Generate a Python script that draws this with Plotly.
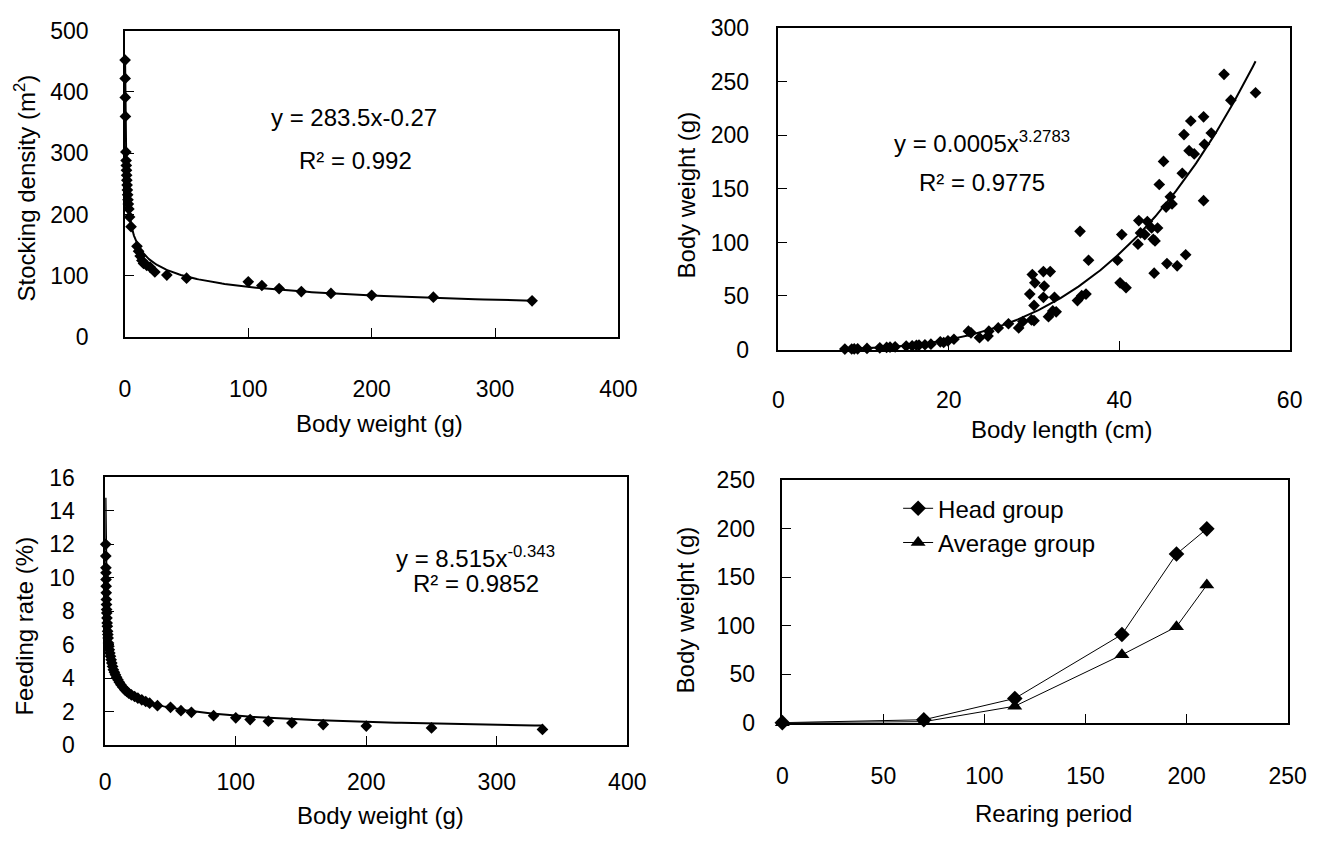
import numpy as np
import plotly.graph_objects as go

W, H = 1334, 843
PAGE_OFFSET = 8  # the page body margin shifts the figure by this many pixels

# ---------------- Panel A: stocking density vs body weight ----------------
sd_weight = [0.18, 0.23, 0.3, 0.41, 0.8, 1.0, 1.15, 1.3, 1.45, 1.6, 1.8, 2.0, 2.25, 2.5,
             2.8, 3.2, 3.8, 5.0, 9.8, 11.1, 12.4, 13.8, 15.1, 17.7, 20.4, 24.3, 34, 50,
             100, 111, 125, 143, 167, 200, 250, 330]
sd_density = [452, 422, 391, 360, 302, 288, 280, 272, 264, 256, 248, 240, 232, 224,
              217, 209, 196, 180, 148, 140, 132, 125, 120, 117, 114, 106, 101, 96,
              90, 84, 79, 74, 71, 68, 65, 59]
sd_coef, sd_exp = 283.5, -0.27

# ---------------- Panel B: body weight vs body length ----------------
bl_length = [7.8, 8.6, 8.9, 9.3, 10.4, 11.9, 12.7, 13.1, 13.7, 15.0, 15.7, 16.2, 16.5, 17.2,
             17.9, 19.0, 19.4, 19.9, 20.6, 22.3, 22.6, 23.6, 24.6, 24.7, 25.8, 27.0, 28.2,
             28.7, 29.5, 29.7, 30.0, 30.0, 30.1, 29.8, 31.1, 31.2, 31.1, 31.7, 31.9, 32.2,
             32.4, 32.6, 35.1, 35.4, 35.6, 36.1, 36.4, 39.8, 40.1, 40.3, 40.8, 42.2, 42.3,
             42.5, 43.0, 43.3, 43.8, 44.0, 44.1, 44.2, 44.5, 44.7, 45.2, 45.5, 45.6, 46.0,
             46.2, 46.8, 47.4, 47.6, 47.8, 48.2, 48.4, 48.8, 49.9, 49.9, 50.0, 50.8, 52.3,
             53.1, 56.0]
bl_weight = [0.4, 0.5, 0.6, 0.7, 1.0, 1.6, 2.0, 2.2, 2.5, 3.2, 3.5, 4.0, 4.2, 4.5,
             5.0, 7.2, 6.6, 8.1, 9.6, 17.2, 15.6, 11.1, 12.6, 17.2, 20.2, 24.1, 20.2,
             26.2, 51.8, 27.7, 27.0, 41.2, 62.3, 70.0, 72.8, 59.3, 48.8, 30.7, 72.8, 36.1,
             48.8, 35.2, 45.7, 110.4, 50.3, 51.8, 83.4, 83.4, 62.3, 107.4, 57.8, 98.4, 120.4,
             108.9, 107.4, 119.5, 113.5, 103.0, 71.3, 101.4, 113.5, 154.1, 175.7, 133.0, 80.3, 142.6,
             136.0, 78.2, 164.6, 200.7, 88.5, 185.7, 213.4, 182.7, 139.0, 217.3, 191.7, 202.2, 257.0,
             232.9, 239.8]
bl_coef, bl_exp = 0.0005, 3.2783

# ---------------- Panel C: feeding rate vs body weight ----------------
fr_weight = [0.37, 0.42, 0.5, 0.55, 0.6, 0.68, 0.75, 0.85, 0.95, 1.05, 1.15, 1.3, 1.45, 1.6,
             1.8, 2.0, 2.2, 2.5, 2.8, 3.1, 3.5, 4.0, 4.5, 5.0, 5.6, 6.2, 7.0, 7.8, 8.7, 9.7,
             10.8, 12, 13.5, 15, 16.5, 18, 20, 22.5, 25, 28, 31, 34, 40, 50, 58, 66, 83, 100,
             111, 125, 143, 167, 200, 250, 335]
fr_rate = [12.0, 11.3, 10.6, 10.3, 9.9, 9.5, 9.1, 8.7, 8.4, 8.1, 7.9, 7.6, 7.3, 7.1,
           6.8, 6.6, 6.4, 6.1, 5.9, 5.7, 5.5, 5.3, 5.1, 4.9, 4.7, 4.5, 4.35, 4.2, 4.05, 3.9,
           3.75, 3.6, 3.45, 3.3, 3.2, 3.1, 3.0, 2.9, 2.8, 2.7, 2.6, 2.5, 2.35, 2.25, 2.05, 1.95,
           1.75, 1.62, 1.52, 1.42, 1.32, 1.22, 1.13, 1.02, 0.93]
fr_coef, fr_exp = 8.515, -0.343
fr_curve_start = 0.2

# ---------------- Panel D: growth over rearing period ----------------
rp_days = [0, 70, 115, 168, 195, 210]
head_weight = [0, 3, 25, 91, 174, 200]
avg_weight = [0, 1, 17, 70, 99, 142]

FONT = "Liberation Sans, Arial, sans-serif"
TICK_SIZE = 23
TEXT_SIZE = 24


def px_x(p):
    return (p - PAGE_OFFSET) / W


def px_y(p):
    return 1 - (p - PAGE_OFFSET) / H


fig = go.Figure()

diamond = dict(symbol="diamond", size=9, color="black")

# Panel A
fig.add_trace(go.Scatter(x=sd_weight, y=sd_density, mode="markers", marker=diamond,
                         xaxis="x", yaxis="y", showlegend=False, cliponaxis=False))
xa = np.geomspace(min(sd_weight), max(sd_weight), 300)
fig.add_trace(go.Scatter(x=xa, y=sd_coef * xa ** sd_exp, mode="lines",
                         line=dict(color="black", width=2), xaxis="x", yaxis="y",
                         showlegend=False))

# Panel B
fig.add_trace(go.Scatter(x=bl_length, y=bl_weight, mode="markers", marker=diamond,
                         xaxis="x2", yaxis="y2", showlegend=False, cliponaxis=False))
xb = np.linspace(min(bl_length), max(bl_length), 300)
fig.add_trace(go.Scatter(x=xb, y=bl_coef * xb ** bl_exp, mode="lines",
                         line=dict(color="black", width=2), xaxis="x2", yaxis="y2",
                         showlegend=False))

# Panel C
fig.add_trace(go.Scatter(x=fr_weight, y=fr_rate, mode="markers", marker=diamond,
                         xaxis="x3", yaxis="y3", showlegend=False, cliponaxis=False))
xc = np.geomspace(fr_curve_start, max(fr_weight), 400)
fig.add_trace(go.Scatter(x=xc, y=fr_coef * xc ** fr_exp, mode="lines",
                         line=dict(color="black", width=2), xaxis="x3", yaxis="y3",
                         showlegend=False))

# Panel D
fig.add_trace(go.Scatter(x=rp_days, y=head_weight, mode="lines+markers", name="Head group",
                         line=dict(color="black", width=1),
                         marker=dict(symbol="diamond", size=12, color="black"),
                         xaxis="x4", yaxis="y4", cliponaxis=False))
fig.add_trace(go.Scatter(x=rp_days, y=avg_weight, mode="lines+markers", name="Average group",
                         line=dict(color="black", width=1),
                         marker=dict(symbol="triangle-up", size=13, color="black"),
                         xaxis="x4", yaxis="y4", cliponaxis=False))

axis_common = dict(showline=True, linecolor="black", linewidth=1.5, mirror=True,
                   ticks="inside", ticklen=9, tickwidth=1, tickcolor="black",
                   showgrid=False, zeroline=False,
                   tickfont=dict(family=FONT, size=TICK_SIZE, color="black"))

fig.update_layout(
    width=W, height=H,
    margin=dict(l=0, r=0, t=0, b=0),
    paper_bgcolor="white", plot_bgcolor="white",
    font=dict(family=FONT, color="black"),
    xaxis=dict(domain=[px_x(121), px_x(624)], range=[0, 400], dtick=100, anchor="y",
               ticklabelstandoff=31, **axis_common),
    yaxis=dict(domain=[px_y(334), px_y(18)], range=[0, 500], dtick=100, anchor="x",
               ticklabelstandoff=30, **axis_common),
    xaxis2=dict(domain=[px_x(787), px_x(1308)], range=[0, 60], dtick=20, anchor="y2",
                ticklabelstandoff=29, **axis_common),
    yaxis2=dict(domain=[px_y(347), px_y(15.5)], range=[0, 300], dtick=50, anchor="x2",
                ticklabelstandoff=23, **axis_common),
    xaxis3=dict(domain=[px_x(101), px_x(633)], range=[0, 400], dtick=100, anchor="y3",
                ticklabelstandoff=16, **axis_common),
    yaxis3=dict(domain=[px_y(755), px_y(479)], range=[0, 16], dtick=2, anchor="x3",
                ticklabelstandoff=24, **axis_common),
    xaxis4=dict(domain=[px_x(791), px_x(1306)], range=[0, 250], dtick=50, anchor="y4",
                ticklabelstandoff=32, **axis_common),
    yaxis4=dict(domain=[px_y(732), px_y(482)], range=[0, 250], dtick=50, anchor="x4",
                ticklabelstandoff=21, **axis_common),
    legend=dict(x=px_x(909), y=px_y(488), xanchor="left", yanchor="top",
                bgcolor="rgba(0,0,0,0)", borderwidth=0, tracegroupgap=0,
                font=dict(family=FONT, size=TEXT_SIZE, color="black")),
    showlegend=True,
)

annotations = [
    # axis titles
    ("Body weight (g)", 380, 423, 0),
    ("Stocking density (m<sup>2</sup>)", 19, 180, -90),
    ("Body length (cm)", 1075, 430, 0),
    ("Body weight (g)", 693, 188, -90),
    ("Body weight (g)", 382, 828, 0),
    ("Feeding rate (%)", 19, 632, -90),
    ("Rearing period", 1067, 826, 0),
    ("Body weight (g)", 692, 616, -90),
    # equations
    ("y = 283.5x-0.27", 355, 108, 0),
    ("R² = 0.992", 356, 152, 0),
    ("y = 0.0005x<sup>3.2783</sup>", 994, 133, 0),
    ("R² = 0.9775", 994, 175, 0),
    ("y = 8.515x<sup>-0.343</sup>", 478, 561, 0),
    ("R² = 0.9852", 479, 588, 0),
]
for text, x, y, ang in annotations:
    fig.add_annotation(text=text, x=px_x(x), y=px_y(y), xref="paper", yref="paper",
                       xanchor="center", yanchor="middle", showarrow=False,
                       textangle=ang, font=dict(family=FONT, size=TEXT_SIZE, color="black"))

fig.write_html("out.html")
